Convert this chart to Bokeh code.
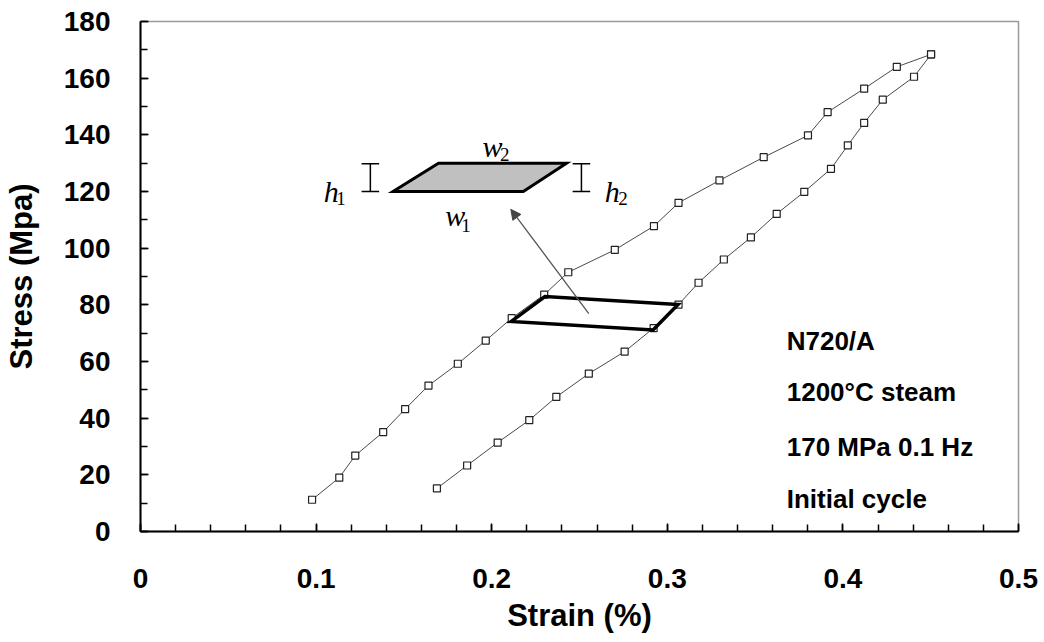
from bokeh.plotting import figure
from bokeh.models import FixedTicker, Range1d, Arrow, NormalHead
from bokeh.core.properties import value
from bokeh.embed import file_html
from bokeh.resources import INLINE

# ---- data ----
load_strain = [0.0977, 0.1132, 0.1223, 0.1382, 0.1507, 0.1640, 0.1807, 0.1966, 0.2114, 0.2299,
               0.2436, 0.2701, 0.2924, 0.3064, 0.3297, 0.3549, 0.3801, 0.3913, 0.4121, 0.4307, 0.4502]
load_stress = [11.2, 19.0, 26.8, 35.1, 43.2, 51.5, 59.2, 67.4, 75.3, 83.6,
               91.5, 99.4, 107.8, 116.0, 123.9, 132.1, 139.8, 148.0, 156.3, 164.0, 168.4]
unload_strain = [0.4502, 0.4405, 0.4227, 0.4121, 0.4028, 0.3932, 0.3780, 0.3623, 0.3476, 0.3322,
                 0.3178, 0.3064, 0.2922, 0.2757, 0.2553, 0.2368, 0.2214, 0.2034, 0.1860, 0.1688]
unload_stress = [168.4, 160.5, 152.4, 144.2, 136.3, 128.0, 119.9, 112.1, 103.8, 96.0,
                 87.8, 80.1, 71.8, 63.5, 55.7, 47.5, 39.3, 31.4, 23.3, 15.2]

# highlighted loop segment (thick outline) and schematic inset
box_strain = [0.2110, 0.2303, 0.3061, 0.2919]
box_stress = [74.1, 82.9, 80.1, 71.1]
inset_strain = [0.1438, 0.1697, 0.2426, 0.2180]
inset_stress = [120.0, 130.0, 130.0, 120.0]
h_bar_strain = [0.1309, 0.2511]
h_bar_low = 120.0
h_bar_high = 129.8

x_ticks = [0, 0.1, 0.2, 0.3, 0.4, 0.5]
x_tick_labels = ["0", "0.1", "0.2", "0.3", "0.4", "0.5"]
y_ticks = [0, 20, 40, 60, 80, 100, 120, 140, 160, 180]
y_tick_labels = ["0", "20", "40", "60", "80", "100", "120", "140", "160", "180"]

info_lines = ["N720/A", "1200\u00b0C steam", "170 MPa 0.1 Hz", "Initial cycle"]
info_stress = [67.4, 49.2, 29.8, 11.5]
info_strain = 0.368

# ---- figure ----
p = figure(width=1040, height=640, output_backend="svg", toolbar_location=None,
           x_range=Range1d(0, 0.5), y_range=Range1d(0, 180),
           min_border_left=138, min_border_right=22, min_border_top=21, min_border_bottom=109,
           x_axis_label="Strain (%)", y_axis_label="Stress (Mpa)")
p.xgrid.visible = False
p.ygrid.visible = False
p.outline_line_color = "#9a9a9a"
p.outline_line_width = 1.5
p.background_fill_color = "white"
p.border_fill_color = "white"

p.xaxis.ticker = FixedTicker(ticks=x_ticks, minor_ticks=[i * 0.02 for i in range(26)])
p.yaxis.ticker = FixedTicker(ticks=y_ticks, minor_ticks=list(range(0, 181, 10)))
p.xaxis.major_label_overrides = {t: l for t, l in zip(x_ticks, x_tick_labels)}
p.yaxis.major_label_overrides = {t: l for t, l in zip(y_ticks, y_tick_labels)}

for ax in (p.xaxis[0], p.yaxis[0]):
    ax.axis_line_width = 2
    ax.axis_line_color = "black"
    ax.major_tick_in = 8
    ax.major_tick_out = 0
    ax.minor_tick_in = 7
    ax.minor_tick_out = 0
    ax.major_tick_line_width = 1.5
    ax.minor_tick_line_width = 1.5
    ax.major_tick_line_color = "black"
    ax.minor_tick_line_color = "black"
    ax.major_label_text_font = "Liberation Sans"
    ax.major_label_text_font_style = "bold"
    ax.major_label_text_font_size = "28px"
    ax.major_label_text_color = "black"
    ax.axis_label_text_font = "Liberation Sans"
    ax.axis_label_text_font_style = "bold"
    ax.axis_label_text_font_size = "31px"
    ax.axis_label_text_color = "black"

p.xaxis.major_label_standoff = 37
p.xaxis.axis_label_standoff = 7
p.yaxis.major_label_standoff = 30
p.yaxis.axis_label_standoff = 22

# ---- loop curves ----
p.line(load_strain, load_stress, line_color="#4a4a4a", line_width=1)
p.line(unload_strain, unload_stress, line_color="#4a4a4a", line_width=1)
p.scatter(load_strain, load_stress, marker="square", size=7, line_color="#222222",
          fill_color="white", line_width=1.2)
p.scatter(unload_strain, unload_stress, marker="square", size=7, line_color="#222222",
          fill_color="white", line_width=1.2)

# highlighted segment outline
p.patch(box_strain, box_stress, fill_alpha=0, line_color="black", line_width=3.5, line_join="miter")

# arrow from highlight to schematic
p.add_layout(Arrow(end=NormalHead(size=10, fill_color="#444444", line_color="#444444"),
                   x_start=0.2553, y_start=76.9, x_end=0.2109, y_end=113.7,
                   line_color="#555555", line_width=1.3))

# schematic inset
p.patch(inset_strain, inset_stress, fill_color="#c0c0c0", line_color="black", line_width=3,
        line_join="miter")
cap = 0.005
p.segment(x0=h_bar_strain, y0=[h_bar_low] * 2, x1=h_bar_strain, y1=[h_bar_high] * 2,
          line_color="black", line_width=1.5)
p.segment(x0=[s - cap for s in h_bar_strain] * 2, y0=[h_bar_low] * 2 + [h_bar_high] * 2,
          x1=[s + cap for s in h_bar_strain] * 2, y1=[h_bar_low] * 2 + [h_bar_high] * 2,
          line_color="black", line_width=1.5)

serif = value("Liberation Serif")
p.text(x=[0.1044, 0.2644, 0.1947, 0.1735], y=[120.1, 120.1, 135.9, 111.5],
       text=["h", "h", "w", "w"], text_font=serif, text_font_style="italic",
       text_font_size="30px", text_baseline="alphabetic", text_align="left", text_color="black")
p.text(x=[0.1115, 0.2720, 0.2047, 0.1826], y=[117.4, 117.4, 133.1, 108.0],
       text=["1", "2", "2", "1"], text_font=serif, text_font_size="19px",
       text_baseline="alphabetic", text_align="left", text_color="black")

# info text block
p.text(x=[info_strain] * 4, y=info_stress, text=info_lines,
       text_font=value("Liberation Sans"), text_font_style="bold", text_font_size="26px",
       text_baseline="middle", text_align="left", text_color="black")

open("out.html", "w").write(file_html(p, INLINE))
